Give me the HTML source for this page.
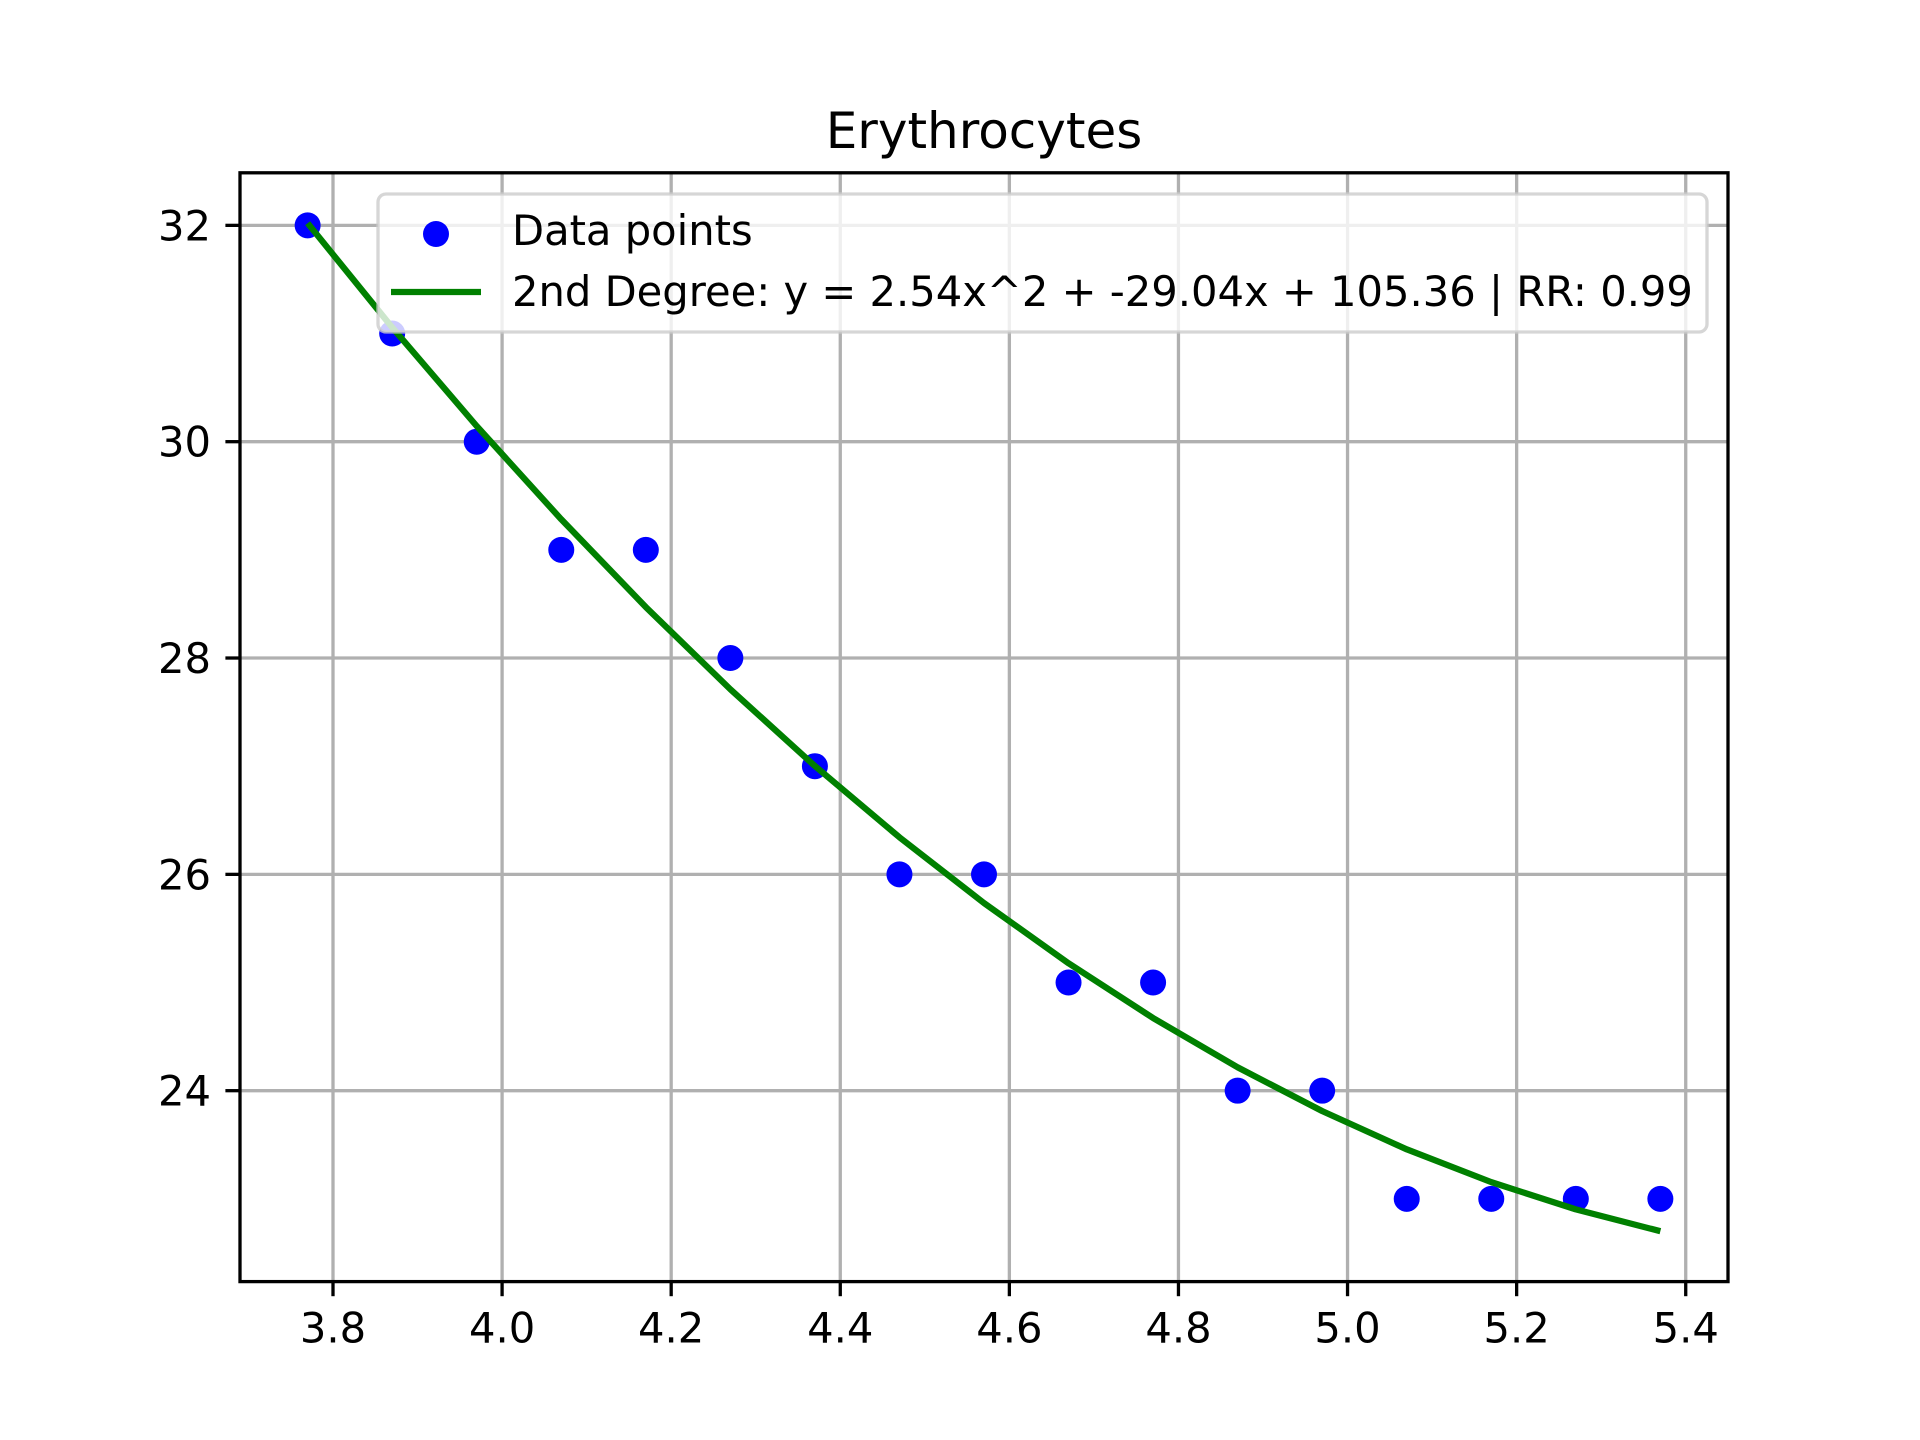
<!DOCTYPE html>
<html><head><meta charset="utf-8"><style>
html,body{margin:0;padding:0;background:#fff;}
svg{display:block;font-family:"DejaVu Sans","Liberation Sans",sans-serif;}
</style></head><body>
<svg id="chart" width="1920" height="1440" viewBox="0 0 1920 1440" xmlns="http://www.w3.org/2000/svg">
<rect x="0" y="0" width="1920" height="1440" fill="#fff"/>
<text x="984" y="148" font-size="50" text-anchor="middle" fill="#000">Erythrocytes</text>
<g id="grid"></g>
<g id="ticks"></g>
<g id="marks"></g>
<rect x="240" y="172.8" width="1488" height="1108.8" fill="none" stroke="#000" stroke-width="3.3"/>
<g>
<rect x="378" y="194" width="1329" height="138" rx="8" fill="#fff" fill-opacity="0.8" stroke="#cccccc" stroke-opacity="0.8" stroke-width="3.3"/>
<circle cx="436" cy="234" r="13" fill="#0000ff"/>
<text x="512" y="245" font-size="41.67" fill="#000">Data points</text>
<line x1="391" y1="292" x2="481" y2="292" stroke="#008000" stroke-width="6.25"/>
<text x="512" y="306" font-size="41.67" fill="#000">2nd Degree: y = 2.54x^2 + -29.04x + 105.36 | RR: 0.99</text>
</g>
</svg>
<script>
const xValues = [3.77,3.87,3.97,4.07,4.17,4.27,4.37,4.47,4.57,4.67,4.77,4.87,4.97,5.07,5.17,5.27,5.37];
const yValues = [32,31,30,29,29,28,27,26,26,25,25,24,24,23,23,23,23];
const fitCoeffs = [2.54,-29.04,105.40];
const xTicks = [3.8,4.0,4.2,4.4,4.6,4.8,5.0,5.2,5.4];
const xTickLabels = ["3.8","4.0","4.2","4.4","4.6","4.8","5.0","5.2","5.4"];
const yTicks = [24,26,28,30,32];
const yTickLabels = ["24","26","28","30","32"];

const NS = "http://www.w3.org/2000/svg";
const L = 240, R = 1728, T = 172.8, B = 1281.6;
const fitY = xValues.map(x => fitCoeffs[0]*x*x + fitCoeffs[1]*x + fitCoeffs[2]);
const xmin0 = Math.min(...xValues), xmax0 = Math.max(...xValues);
const allY = yValues.concat(fitY);
const ymin0 = Math.min(...allY), ymax0 = Math.max(...allY);
const xpad = (xmax0 - xmin0) * 0.05, ypad = (ymax0 - ymin0) * 0.05;
const xlo = xmin0 - xpad, xhi = xmax0 + xpad, ylo = ymin0 - ypad, yhi = ymax0 + ypad;
function sx(v){ return L + (v - xlo) / (xhi - xlo) * (R - L); }
function sy(v){ return B - (v - ylo) / (yhi - ylo) * (B - T); }
function mk(tag, attrs, parent){
  const e = document.createElementNS(NS, tag);
  for (const k in attrs) e.setAttribute(k, attrs[k]);
  parent.appendChild(e); return e;
}
const grid = document.getElementById('grid');
const ticks = document.getElementById('ticks');
const marks = document.getElementById('marks');
xTicks.forEach((t, i) => {
  const x = sx(t);
  const g = mk('line', {x1:x, y1:T, x2:x, y2:B, stroke:'#b0b0b0', 'stroke-width':3.3}, grid);
  
  
  const tk = mk('line', {x1:x, y1:B, x2:x, y2:B+14.6, stroke:'#000', 'stroke-width':3.3}, ticks);
  
  
  const tl = mk('text', {x:x, y:B+61, 'font-size':41.67, 'text-anchor':'middle', fill:'#000'}, ticks);
  tl.textContent = xTickLabels[i];
  
  
});
yTicks.forEach((t, i) => {
  const y = sy(t);
  const g = mk('line', {x1:L, y1:y, x2:R, y2:y, stroke:'#b0b0b0', 'stroke-width':3.3}, grid);
  
  
  const tk = mk('line', {x1:L-14.6, y1:y, x2:L, y2:y, stroke:'#000', 'stroke-width':3.3}, ticks);
  
  
  const tl = mk('text', {x:L-29, y:y+15, 'font-size':41.67, 'text-anchor':'end', fill:'#000'}, ticks);
  tl.textContent = yTickLabels[i];
  
  
});
xValues.forEach((x, i) => {
  const c = mk('circle', {cx:sx(x), cy:sy(yValues[i]), r:13, fill:'#0000ff'}, marks);
  
  
});
const pts = xValues.map((x, i) => sx(x).toFixed(2) + ',' + sy(fitY[i]).toFixed(2)).join(' ');
const pl = mk('polyline', {points:pts, fill:'none', stroke:'#008000', 'stroke-width':6.25, 'stroke-linejoin':'round'}, marks);


</script>
</body></html>
